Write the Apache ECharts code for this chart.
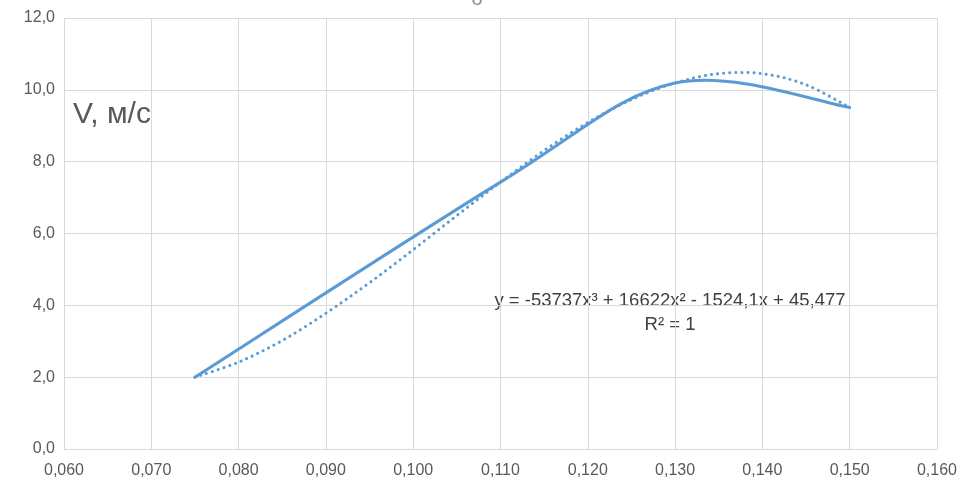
<!DOCTYPE html>
<html>
<head>
<meta charset="utf-8">
<script src="https://cdn.jsdelivr.net/npm/echarts@6/dist/echarts.min.js"></script>
<style>
  html, body { margin: 0; padding: 0; background: #fff; }
  #chart { width: 960px; height: 491px; }
</style>
</head>
<body>
<div id="chart"></div>
<script>
// measured points (solid line)
const xData = [0.075, 0.11, 0.13, 0.15];
const vData = [2.0, 7.43, 10.19, 9.51];

// polynomial trendline, values
const trendX = [0.075, 0.080, 0.085, 0.090, 0.095, 0.100, 0.105, 0.110, 0.115, 0.120, 0.125, 0.130, 0.135, 0.140, 0.145, 0.150];
const trendY = [2.00, 2.42, 3.02, 3.78, 4.63, 5.55, 6.50, 7.43, 8.31, 9.09, 9.73, 10.19, 10.45, 10.45, 10.14, 9.51];

const equation = "y = -53737x³ + 16622x² - 1524,1x + 45,477";
const rSquared = "R² = 1";

const fontName = "'Liberation Sans Narrow', 'Liberation Sans', sans-serif";
const blue = "#5b9bd5";

// Excel-style smoothed line: Catmull-Rom through the points, drawn as bezier segments
function smoothPath(pts) {
  let d = "M" + pts[0][0] + " " + pts[0][1];
  for (let i = 0; i < pts.length - 1; i++) {
    const p0 = pts[Math.max(i - 1, 0)];
    const p1 = pts[i];
    const p2 = pts[i + 1];
    const p3 = pts[Math.min(i + 2, pts.length - 1)];
    const c1x = p1[0] + (p2[0] - p0[0]) / 6;
    const c1y = p1[1] + (p2[1] - p0[1]) / 6;
    const c2x = p2[0] - (p3[0] - p1[0]) / 6;
    const c2y = p2[1] - (p3[1] - p1[1]) / 6;
    d += " C" + c1x + " " + c1y + " " + c2x + " " + c2y + " " + p2[0] + " " + p2[1];
  }
  return d;
}

function curveSeries(xs, ys, lineStyle, z) {
  return {
    type: "custom",
    data: xs.map((x, i) => [x, ys[i]]),
    encode: { x: 0, y: 1 },
    z: z,
    renderItem: (params, api) => {
      if (params.dataIndex !== 0) return null;
      const pts = xs.map((x, i) => api.coord([x, ys[i]]));
      return {
        type: "path",
        shape: { pathData: smoothPath(pts) },
        style: Object.assign({ fill: "none", stroke: blue }, lineStyle)
      };
    }
  };
}

const chart = echarts.init(document.getElementById("chart"));

chart.setOption({
  animation: false,
  grid: { left: 64, right: 21, top: 18, bottom: 42 },
  xAxis: {
    type: "value",
    min: 0.06,
    max: 0.16,
    interval: 0.01,
    axisLine: { show: true, lineStyle: { color: "#d9d9d9", width: 1 } },
    axisTick: { show: false },
    splitLine: { show: true, lineStyle: { color: "#d9d9d9", width: 1 } },
    axisLabel: {
      color: "#595959",
      fontSize: 16,
      fontFamily: fontName,
      margin: 14,
      formatter: (v) => v.toFixed(3).replace(".", ",")
    }
  },
  yAxis: {
    type: "value",
    min: 0,
    max: 12,
    interval: 2,
    axisLine: { show: false },
    axisTick: { show: false },
    splitLine: { show: true, lineStyle: { color: "#d9d9d9", width: 1 } },
    axisLabel: {
      color: "#595959",
      fontSize: 16,
      fontFamily: fontName,
      margin: 9,
      formatter: (v) => v.toFixed(1).replace(".", ",")
    }
  },
  series: [
    curveSeries(trendX, trendY, { lineWidth: 3, lineDash: [0.1, 6], lineCap: "round" }, 2),
    curveSeries(xData, vData, { lineWidth: 3, lineCap: "round" }, 3)
  ],
  graphic: [
    {
      type: "text",
      left: 73,
      top: 100,
      style: { text: "V, м/с", fill: "#595959", fontSize: 30, fontFamily: fontName }
    },
    {
      type: "text",
      x: 477,
      y: 9,
      style: { text: "o", fill: "#8c8c8c", fontSize: 20, fontFamily: fontName, align: "center", verticalAlign: "bottom" }
    },
    {
      type: "text",
      x: 670,
      y: 289,
      style: {
        text: equation + "\n" + rSquared,
        fill: "#404040",
        fontSize: 18.5,
        lineHeight: 24,
        fontFamily: fontName,
        align: "center"
      }
    }
  ]
});
</script>
</body>
</html>
